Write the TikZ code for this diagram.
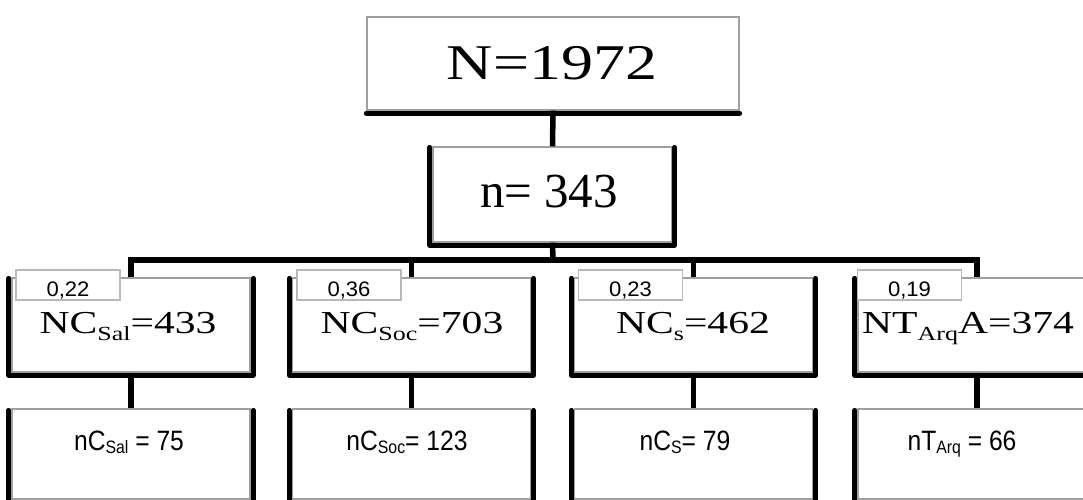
\documentclass[tikz,border=0pt]{standalone}
\usepackage{fontspec}
\usepackage{graphicx}
\setmainfont{Liberation Serif}
\newfontfamily\lsans{Liberation Sans}
\newcommand\lsub[1]{\raisebox{-7pt}{\fontsize{20}{20}\selectfont #1}}
\newcommand\ssub[1]{\raisebox{-3pt}{\fontsize{18}{18}\selectfont #1}}
\newcommand\wide[1]{\scalebox{1.3}[1]{#1}}
\newcommand\narrowtxt[1]{\scalebox{0.88}[1]{#1}}
\begin{document}
\begin{tikzpicture}[x=1pt,y=-1pt,
  boxsty/.style={draw=gray!75, line width=1.2pt, fill=white, inner sep=0pt},
  labsty/.style={draw=gray!55, line width=1.5pt, fill=white, inner sep=0pt,
     minimum width=104pt, minimum height=30pt},
  shd/.style={line width=5pt, black, line join=round, line cap=round},
  conn/.style={line width=5.5pt, black},
  serif/.style={anchor=base, inner sep=0pt, font=\fontsize{32}{32}\selectfont},
  sanstxt/.style={anchor=base, inner sep=0pt, font=\lsans\fontsize{28}{28}\selectfont},
  labtxt/.style={anchor=base, inner sep=0pt, font=\lsans\fontsize{21}{21}\selectfont}]
\useasboundingbox (0,0) rectangle (1083,500);
\fill[white] (0,0) rectangle (1083,500);

\coordinate (bar) at (553,260);
\node[boxsty, minimum width=372pt, minimum height=93pt] (top) at (553,63.5) {};
\node[boxsty, minimum width=239pt, minimum height=95pt] (nb) at (552.5,194.5) {};
\foreach \i/\x in {1/131,2/411.5,3/693.5,4/977}{
  \node[boxsty, minimum width=238pt, minimum height=94pt] (b\i) at (\x,325) {};
  \node[boxsty, minimum width=238pt, minimum height=90pt] (c\i) at (\x,454) {};
}
\draw[conn] (top.south) -- (nb.north);
\draw[conn] (nb.south) -- (bar);
\draw[conn] (b1.north) |- (bar) -| (b4.north);
\draw[conn] (b2.north) -- (b2.north |- bar);
\draw[conn] (b3.north) -- (b3.north |- bar);
\foreach \i in {1,...,4}{
  \draw[conn] (b\i.south) -- (c\i.north);
}

\draw[shd] ([shift={(0,-2.5pt)}]top.south west) -- ([shift={(0,-2.5pt)}]top.south east);
\draw[shd] ([shift={(-2.5pt,-1pt)}]nb.north west) -- ([shift={(-2.5pt,-2.5pt)}]nb.south west)
   -- ([shift={(2pt,-2.5pt)}]nb.south east) -- ([shift={(2pt,-1pt)}]nb.north east);
\foreach \i in {1,...,4}{
  \draw[shd] ([shift={(-2.5pt,-1pt)}]b\i.north west) -- ([shift={(-2.5pt,-2.5pt)}]b\i.south west)
     -- ([shift={(2.5pt,-2.5pt)}]b\i.south east) -- ([shift={(2.5pt,-1pt)}]b\i.north east);
  \draw[shd] ([shift={(-2.5pt,-2pt)}]c\i.north west) -- ([shift={(-2.5pt,0)}]c\i.south west);
  \draw[shd] ([shift={(2.5pt,-2pt)}]c\i.north east) -- ([shift={(2.5pt,0)}]c\i.south east);
}

\node[serif, font=\fontsize{50}{50}\selectfont] (ttop) at (552,80) {\scalebox{1.28}[1]{N=1972}};
\node[serif, font=\fontsize{49}{49}\selectfont] (tn) at (549,207) {n= 343};
\node[serif] (t1) at (128,333) {\wide{NC\lsub{Sal}=433}};
\node[serif] (t2) at (412,333) {\wide{NC\lsub{Soc}=703}};
\node[serif] (t3) at (693,333) {\wide{NC\lsub{s}=462}};
\node[serif, anchor=base west] (t4) at (862,333) {\wide{NT\lsub{Arq}A=374}};

\node[sanstxt] (s1) at (129,450) {\narrowtxt{nC\ssub{Sal} = 75}};
\node[sanstxt] (s2) at (407,450) {\narrowtxt{nC\ssub{Soc}= 123}};
\node[sanstxt] (s3) at (685,450) {\narrowtxt{nC\ssub{S}= 79}};
\node[sanstxt] (s4) at (962,450) {\narrowtxt{nT\ssub{Arq} = 66}};

\foreach \i/\x/\v in {1/68/{0,22},2/349/{0,36},3/630.5/{0,23},4/909.5/{0,19}}{
  \node[labsty] (l\i) at (\x,285) {};
  \node[labtxt] (lt\i) at (\x,296) {\scalebox{1.05}[1]{\v}};
}
\end{tikzpicture}
\end{document}
